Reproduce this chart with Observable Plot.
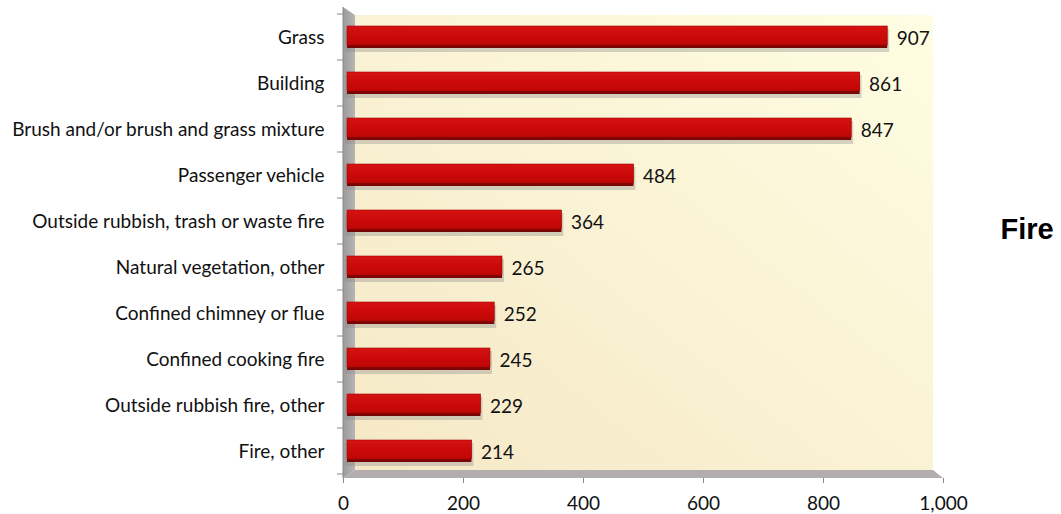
<!DOCTYPE html>
<html>
<head>
<meta charset="utf-8">
<script src="https://cdn.jsdelivr.net/npm/d3@7"></script>
<script src="https://cdn.jsdelivr.net/npm/@observablehq/plot@0.6"></script>
<style>
  html, body { margin: 0; padding: 0; background: #fff; }
  #chart { position: relative; width: 1061px; height: 514px; }
</style>
</head>
<body>
<div id="chart"></div>
<script>
const categories = [
  "Grass",
  "Building",
  "Brush and/or brush and grass mixture",
  "Passenger vehicle",
  "Outside rubbish, trash or waste fire",
  "Natural vegetation, other",
  "Confined chimney or flue",
  "Confined cooking fire",
  "Outside rubbish fire, other",
  "Fire, other"
];
const values = [907, 861, 847, 484, 364, 265, 252, 245, 229, 214];
const xTicks = [0, 200, 400, 600, 800, 1000];
const title = "Fire";

const data = categories.map((c, i) => ({name: c, value: values[i]}));
const FONT = "Lato, 'Open Sans', sans-serif";

function walls(index, scales, values, dims) {
  const x0 = dims.marginLeft, x1 = dims.width - dims.marginRight;
  const y0 = dims.marginTop, y1 = dims.height - dims.marginBottom;
  const d = 12, dr = 10, e = 8;
  const g = d3.create("svg:g");
  const defs = g.append("defs");
  const wg = defs.append("linearGradient").attr("id", "wallGrad")
    .attr("x1", "0").attr("y1", "1").attr("x2", "1").attr("y2", "0");
  wg.append("stop").attr("offset", "0").attr("stop-color", "#F5E8C6");
  wg.append("stop").attr("offset", "1").attr("stop-color", "#FFFDE3");
  const lg = defs.append("linearGradient").attr("id", "leftGrad")
    .attr("x1", "0").attr("y1", "0").attr("x2", "1").attr("y2", "0");
  lg.append("stop").attr("offset", "0").attr("stop-color", "#9C9A9A");
  lg.append("stop").attr("offset", "1").attr("stop-color", "#B8B4B4");
  const bg = defs.append("linearGradient").attr("id", "barGrad")
    .attr("x1", "0").attr("y1", "0").attr("x2", "0").attr("y2", "1");
  bg.append("stop").attr("offset", "0").attr("stop-color", "#D61212");
  bg.append("stop").attr("offset", "0.5").attr("stop-color", "#CC0A0A");
  bg.append("stop").attr("offset", "1").attr("stop-color", "#C00606");

  g.append("rect").attr("x", x0 + d).attr("y", y0 + e)
    .attr("width", x1 - dr - x0 - d).attr("height", y1 - y0 - 2 * e)
    .attr("fill", "url(#wallGrad)");
  g.append("polygon")
    .attr("points", [[x0, y0], [x0 + d, y0 + e], [x0 + d, y1 - e], [x0, y1]].join(" "))
    .attr("fill", "url(#leftGrad)");
  g.append("polygon")
    .attr("points", [[x0 + d, y1 - e], [x1 - dr, y1 - e], [x1, y1], [x0, y1]].join(" "))
    .attr("fill", "#B3ADAD");
  // y tick marks at band boundaries
  const ys = scales.scales.y;
  const bounds = categories.map(c => scales.y(c));
  bounds.push(scales.y(categories[categories.length - 1]) + ys.bandwidth);
  for (const b of bounds) {
    g.append("line").attr("x1", x0 - 6).attr("x2", x0).attr("y1", b).attr("y2", b)
      .attr("stroke", "#8A8A8A");
  }
  g.append("line").attr("x1", x0).attr("x2", x0).attr("y1", y0).attr("y2", y1)
    .attr("stroke", "#8A8A8A");
  return g.node();
}

const plot = Plot.plot({
  width: 1061,
  height: 514,
  marginLeft: 343,
  marginRight: 118,
  marginTop: 7,
  marginBottom: 36,
  style: {fontFamily: FONT, fontSize: "19px", color: "#111", background: "transparent"},
  x: {domain: [0, 1000]},
  y: {domain: categories, padding: 0, insetTop: 3, insetBottom: 1},
  marks: [
    walls,
    Plot.barX(data, {x: "value", y: "name", fill: "#888", fillOpacity: 0.35,
      insetTop: 13, insetBottom: 10, dx: 2, dy: 2}),
    Plot.barX(data, {x: "value", y: "name", fill: "#7A0606",
      insetTop: 12, insetBottom: 12, insetLeft: 4}),
    Plot.barX(data, {x: "value", y: "name", fill: "url(#barGrad)", stroke: "#A00808", strokeWidth: 0.6,
      insetTop: 12, insetBottom: 15, insetLeft: 4}),
    Plot.text(data, {x: "value", y: "name", text: d => String(d.value), dx: 9, dy: 1,
      textAnchor: "start", fontSize: 19, fill: "#111"}),
    Plot.axisY({tickSize: 0, tickPadding: 19, fontSize: 19, label: null}),
    Plot.axisX({ticks: xTicks, tickFormat: d3.format(","), tickSize: 5, tickPadding: 13,
      stroke: "#8A8A8A", fontSize: 19, label: null}),
    Plot.text([title], {frameAnchor: "right", dx: 57, dy: -13, textAnchor: "start",
      fontSize: 29, fontWeight: "bold", fontFamily: "'Liberation Sans', Arial, sans-serif", fill: "#000"})
  ]
});
document.getElementById("chart").appendChild(plot);
</script>
</body>
</html>
